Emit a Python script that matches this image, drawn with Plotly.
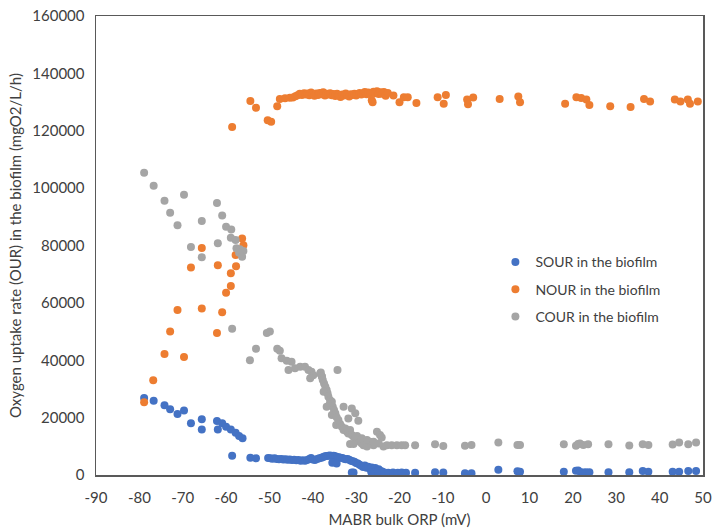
import plotly.graph_objects as go

# ---------------- data ----------------
# NOUR in the biofilm (orange)
nour_x = [-78.9, -76.8, -74.2, -72.9, -71.2, -69.7, -68.1, -65.6, -65.6, -62.1,
          -61.9, -60.9, -60.0, -58.9, -58.9, -57.8, -57.7, -56.3, -56.0, -58.6,
          -54.4, -53.1, -50.4, -49.6, -48.2, -47.6, -46.4, -45.3,
          -44.6, -44.0, -43.5, -43.0, -42.5, -42.0, -41.6, -41.2, -40.8, -40.4,
          -40.0, -39.6, -39.2, -38.8, -38.4, -38.0, -37.6, -37.2, -36.8, -36.4,
          -36.0, -35.6, -35.2, -34.8, -34.4, -34.0, -33.6, -33.2, -32.8, -32.4,
          -32.0, -31.6, -31.2, -30.8, -30.4, -30.0, -29.6, -29.2, -28.8, -28.4,
          -28.0, -27.6, -27.2, -26.8, -26.4, -26.2, -26.0, -25.6, -25.2, -24.8,
          -24.4, -24.0, -23.6, -23.2, -22.7,
          -21.4, -20.0, -19.0, -18.1, -16.1, -11.2, -9.8, -9.3, -4.4, -4.2,
          -3.0, 3.1, 7.4, 7.8, 18.2, 20.8, 21.9, 23.1, 23.8, 28.6,
          33.3, 36.4, 37.8, 43.5, 44.8, 46.5, 47.0, 48.8]
nour_y = [25400, 33000, 42200, 50000, 57500, 41100, 72300, 58000, 79100, 49500,
          73100, 56700, 63500, 65900, 70300, 76700, 72800, 82400, 80100, 121300,
          130400, 128000, 123700, 123100, 128500, 131100, 131300, 131500,
          131600, 132000, 132400, 132900, 132500, 133100, 132600, 133000, 132400, 133300,
          132800, 132200, 133000, 132500, 133200, 132700, 133400, 132300, 132900, 132600,
          133100, 132400, 132800, 132100, 132900, 132500, 131800, 132600, 132300, 133000,
          132400, 131900, 132700, 132500, 132900, 132300, 132800, 133200, 132600, 133000,
          133500, 132700, 133300, 132900, 130600, 129900, 133600, 133100, 133800, 132800,
          133400, 132900, 133500, 132200, 133200,
          132300, 129900, 131700, 131700, 129700, 131700, 129400, 132500, 130900, 129200,
          131600, 131100, 131900, 129900, 129400, 131700, 131400, 130900, 129000, 128500,
          128300, 131100, 130200, 130900, 130200, 130900, 129400, 130200]

# SOUR in the biofilm (blue)
sour_x = [-78.9, -76.7, -74.2, -72.9, -71.2, -69.7, -68.1, -65.6, -65.6, -62.1,
          -61.9, -60.9, -60.0, -58.9, -57.8, -57.0, -56.2, -58.6, -54.4, -53.1,
          -50.3, -49.8, -49.3, -48.8, -48.3, -47.8, -47.3, -46.8, -46.3, -45.8,
          -45.3, -44.8, -44.3, -43.8, -43.3, -42.8, -42.3, -41.8, -41.3, -40.8,
          -40.4, -40.0, -39.5, -39.0, -38.5,
          -38.0, -37.6, -37.2, -36.8, -36.4, -36.0, -35.6, -35.2, -34.8, -34.4,
          -34.0, -33.6, -33.2, -32.8, -32.4, -32.0, -31.6, -31.2, -30.8, -30.4,
          -30.0, -29.6, -29.2, -28.8, -28.4, -28.0, -27.6, -27.2, -26.8, -26.4,
          -26.0, -25.6, -25.2, -24.8, -24.4, -24.0,
          -35.5, -34.5, -31.0, -30.6, -26.5, -25.8, -25.0, -24.5, -23.5, -22.6,
          -21.5, -20.4, -19.5, -18.5, -16.4, -11.8, -9.9, -4.9, -3.4, 2.8,
          7.2, 7.8, 17.9, 20.7, 21.2, 21.8, 22.4, 23.0, 23.8, 28.2,
          33.0, 36.1, 37.4, 43.0, 44.5, 46.6, 48.4]
sour_y = [26800, 25900, 24300, 22900, 21300, 22500, 18000, 19400, 15900, 18800,
          15900, 18000, 16800, 15900, 14700, 13600, 12800, 6700, 6000, 5800,
          5900, 5800, 5700, 5800, 5600, 5500, 5600, 5400, 5500, 5300,
          5400, 5200, 5300, 5100, 5200, 5000, 5100, 5000, 5200, 5600,
          5900, 5400, 5200, 5600, 5800,
          6000, 6300, 6500, 6600, 6700, 6800, 6600, 6700, 6500, 6300,
          6200, 6000, 5900, 5700, 5500, 5600, 5300, 5000, 4800, 4600,
          4200, 4000, 3600, 3200, 2800, 3300, 2500, 2900, 2200, 2600,
          1800, 2400, 1600, 2000, 1400, 1200,
          4300, 4000, 900, 900, 1000, 800, 1300, 700, 900, 800,
          900, 800, 900, 800, 800, 1000, 900, 600, 600, 1800,
          1300, 1100, 1100, 1500, 1600, 1000, 900, 1000, 1000, 1000,
          1000, 1400, 1100, 1100, 1100, 1400, 1400]

# COUR in the biofilm (grey)
cour_x = [-78.9, -76.7, -74.2, -72.9, -71.2, -69.7, -68.1, -65.6, -65.6, -62.1,
          -61.9, -60.9, -60.0, -58.8, -58.9, -57.8, -57.6, -56.8, -56.0, -57.0,
          -56.3, -58.6, -54.5, -53.1, -50.6, -49.9, -48.2, -47.6, -47.2, -46.0,
          -44.9, -45.6, -44.1, -42.9, -41.8, -41.0, -40.3, -39.9, -40.6, -38.3,
          -37.9, -34.3,
          -38.15, -37.9, -37.7, -37.4, -37.1, -36.8, -36.6, -37.5, -36.4, -36.0,
          -35.6, -36.1, -35.4, -36.8, -35.1, -34.8, -35.6, -34.5, -34.1, -34.6,
          -33.7, -33.3, -32.9, -32.5, -32.1, -31.8, -31.4, -31.0, -30.6, -30.2,
          -29.8, -29.5, -29.1, -28.7, -28.3, -27.5, -26.8, -26.0, -25.2, -24.5,
          -24.1, -23.7, -22.9, -21.8, -20.6, -19.5, -18.7, -16.4, -32.9, -31.0,
          -30.2, -29.5, -31.8, -31.4, -30.6, -28.7, -27.5, -26.0, -24.8,
          -11.8, -9.9, -4.9, -3.4, 2.8, 7.2, 7.8, 17.9, 20.7, 21.2,
          21.6, 22.4, 23.5, 28.2, 33.0, 36.1, 37.4, 43.0, 44.5, 46.6,
          48.4]
cour_y = [105400, 100800, 95600, 91400, 87100, 97700, 79500, 88500, 75900, 94800,
          80800, 90500, 86500, 85600, 82700, 81900, 79000, 78700, 78100, 77500,
          76100, 51000, 40000, 44000, 49500, 50000, 44000, 43300, 40700, 39800,
          39500, 36600, 37200, 37700, 37700, 36600, 36000, 34800, 33700, 35400,
          34300, 36600,
          35700, 34300, 33100, 31900, 30800, 29600, 28500, 29000, 27300, 26100,
          25500, 24700, 23800, 23800, 22700, 21500, 20900, 20100, 19200, 17400,
          17800, 16800, 15700, 16200, 15100, 14500, 15700, 13900, 13300, 12800,
          13600, 12200, 11600, 11000, 10400, 9900, 11600, 10400, 15100, 13900,
          13100, 9900, 10400, 10400, 10400, 10400, 10400, 10400, 23800, 23200,
          21500, 18900, 19700, 10800, 10800, 12800, 12200, 11600, 11000,
          10700, 10100, 10200, 10500, 11300, 10500, 10500, 10700, 10200, 10800,
          11000, 10500, 10700, 10700, 10300, 10700, 10500, 10600, 11300, 10700,
          11300]

series_names = ["SOUR in the biofilm", "NOUR in the biofilm", "COUR in the biofilm"]
series_colors = ["#4472C4", "#ED7D31", "#A5A5A5"]

x_ticks = [-90, -80, -70, -60, -50, -40, -30, -20, -10, 0, 10, 20, 30, 40, 50]
y_ticks = [0, 20000, 40000, 60000, 80000, 100000, 120000, 140000, 160000]

# ---------------- figure ----------------
fig = go.Figure()
for name, color, xs, ys in zip(series_names, series_colors,
                               [sour_x, nour_x, cour_x], [sour_y, nour_y, cour_y]):
    fig.add_trace(go.Scatter(
        x=xs, y=ys, mode="markers", name=name, legendgroup=name,
        marker=dict(color=color, size=8, line=dict(width=0)),
    ))

font_family = "Lato, 'Open Sans', sans-serif"
axis_common = dict(
    showgrid=False, zeroline=False, showline=True, mirror=True,
    linecolor="#595959", linewidth=1.5, ticks="", automargin=False,
    tickfont=dict(family=font_family, size=15, color="#404040"),
    title_font=dict(family=font_family, size=15, color="#404040"),
)

fig.update_layout(
    width=712, height=531,
    margin=dict(l=96, r=9, t=16, b=56, autoexpand=False),
    paper_bgcolor="white", plot_bgcolor="white",
    showlegend=True,
    legend=dict(
        x=0.658, y=0.498, xanchor="left", yanchor="top",
        font=dict(family=font_family, size=14, color="#404040"),
        bgcolor="rgba(0,0,0,0)", tracegroupgap=6, itemwidth=30,
    ),
    xaxis=dict(range=[-90, 50], tickvals=x_ticks,
               ticktext=[str(v) for v in x_ticks], ticklabelstandoff=8,
               title=dict(text="MABR bulk ORP (mV)", standoff=10), **axis_common),
    yaxis=dict(range=[0, 160000], tickvals=y_ticks,
               ticktext=[str(v) for v in y_ticks], ticklabelstandoff=7,
               title=dict(text="Oxygen uptake rate (OUR) in the biofilm (mgO2/L/h)", standoff=7),
               **axis_common),
)

fig.write_html("out.html",
               config={"displayModeBar": False, "staticPlot": True},
               post_script="document.body.style.margin='0';document.body.style.overflow='hidden';")
